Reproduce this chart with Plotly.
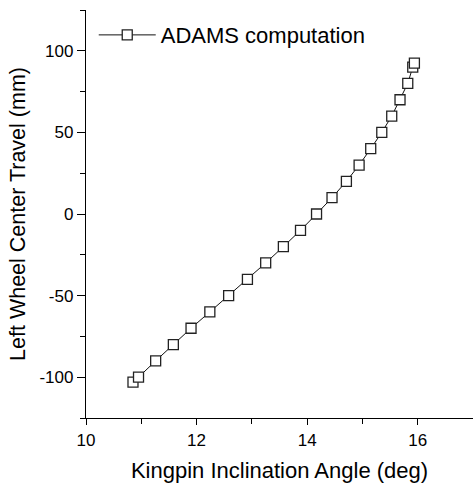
import plotly.graph_objects as go

angle_deg = [10.85, 10.95, 11.26, 11.58, 11.90, 12.24, 12.58, 12.92, 13.25, 13.57,
             13.88, 14.17, 14.45, 14.71, 14.94, 15.15, 15.35, 15.53, 15.68, 15.82,
             15.91, 15.94]
travel_mm = [-103, -100, -90, -80, -70, -60, -50, -40, -30, -20,
             -10, 0, 10, 20, 30, 40, 50, 60, 70, 80,
             90, 92.5]
series_name = "ADAMS computation"
x_title = "Kingpin Inclination Angle (deg)"
y_title = "Left Wheel Center Travel (mm)"
x_tick_vals = [10, 12, 14, 16]
x_tick_text = ["10", "12", "14", "16"]
y_tick_vals = [-100, -50, 0, 50, 100]
y_tick_text = ["-100", "-50", "0", "50", "100"]

FONT = "Arial, Liberation Sans, sans-serif"

fig = go.Figure()
fig.add_trace(go.Scatter(
    x=angle_deg, y=travel_mm, mode="lines+markers", name=series_name,
    line=dict(color="#111111", width=1),
    marker=dict(symbol="square", size=10, color="white",
                line=dict(color="#222222", width=1.3)),
))

axis_common = dict(
    showline=True, linecolor="black", linewidth=1.3, mirror=False,
    showgrid=False, zeroline=False,
    ticks="outside", tickcolor="black", tickwidth=1.3,
    tickmode="array",
    tickfont=dict(family=FONT, size=17, color="black"),
)

fig.update_xaxes(
    range=[10, 17], tickvals=x_tick_vals, ticktext=x_tick_text, ticklen=6,
    minor=dict(dtick=1, tick0=10, ticks="outside", ticklen=5, tickcolor="black", tickwidth=1.3),
    title=dict(text=x_title, font=dict(family=FONT, size=22, color="black"), standoff=14),
    **axis_common,
)
fig.update_yaxes(
    range=[-125, 125], tickvals=y_tick_vals, ticktext=y_tick_text, ticklen=8,
    minor=dict(dtick=25, tick0=0, ticks="outside", ticklen=5, tickcolor="black", tickwidth=1.3),
    title=dict(text=y_title, font=dict(family=FONT, size=21.5, color="black"), standoff=7),
    **axis_common,
)

fig.update_layout(
    width=473, height=487,
    margin=dict(l=86, r=0, t=10, b=69),
    paper_bgcolor="white", plot_bgcolor="white",
    showlegend=True,
    legend=dict(x=0.02, y=0.99, xanchor="left", yanchor="top",
                bgcolor="rgba(0,0,0,0)", borderwidth=0, itemwidth=57,
                font=dict(family=FONT, size=22, color="black")),
)

fig.write_html("out.html")
